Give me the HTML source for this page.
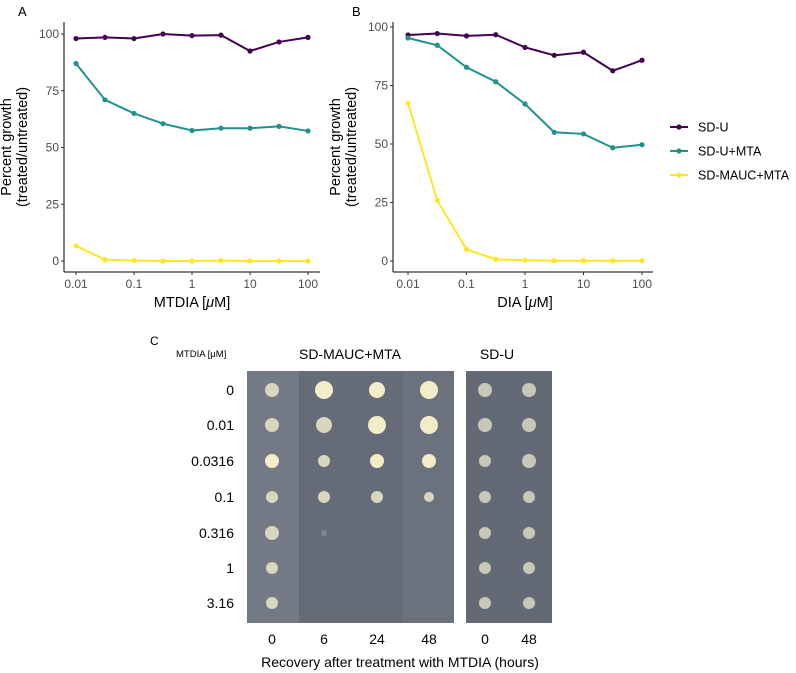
<!DOCTYPE html>
<html><head><meta charset="utf-8"><style>
body{margin:0;background:#fff;}
svg{display:block;font-family:"Liberation Sans",sans-serif;}
</style></head><body>
<svg id="fig" width="796" height="673" viewBox="0 0 796 673">
<g id="gA"></g>
<g id="gB"></g>
<g id="gL"></g>
<g id="gC"></g>
</svg>
<script>
const xCats = [0.01, 0.0316, 0.1, 0.316, 1, 3.16, 10, 31.6, 100];
const xTickVals = [0.01, 0.1, 1, 10, 100];
const xTickLabels = ["0.01", "0.1", "1", "10", "100"];
const yTickVals = [0, 25, 50, 75, 100];
const seriesNames = ["SD-U", "SD-U+MTA", "SD-MAUC+MTA"];
const seriesColors = ["#440154", "#21918c", "#fde725"];
const aSDU = [98, 98.5, 98, 100, 99.3, 99.5, 92.5, 96.5, 98.5];
const aSDUMTA = [87, 71, 65, 60.5, 57.5, 58.5, 58.5, 59.3, 57.3];
const aMAUC = [6.7, 0.6, 0.2, 0, 0, 0.2, 0, 0, 0];
const bSDU = [96.6, 97.2, 96.2, 96.7, 91.3, 87.9, 89.2, 81.3, 85.8];
const bSDUMTA = [95.3, 92.2, 82.8, 76.6, 67.1, 55, 54.3, 48.4, 49.7];
const bMAUC = [67.5, 25.9, 5, 0.7, 0.3, 0.1, 0.1, 0.1, 0.1];
const plateRows = ["0", "0.01", "0.0316", "0.1", "0.316", "1", "3.16"];
const plateCols = ["0", "6", "24", "48", "0", "48"];
const colonyR = [
 [7,9,8,9,7,7],[7,8,9,9,7,7],[7,6,7,7,6,7],[6,6,6,5,6,6],[7,3,0,0,6,6],[6,0,0,0,6,6],[6,0,0,0,6,6]];
const colonyType = [
 [1,0,0,0,3,3],[1,1,0,0,3,3],[0,1,0,0,3,3],[1,1,1,1,3,3],[1,2,0,0,3,3],[1,0,0,0,3,3],[1,0,0,0,3,3]];

const NS = "http://www.w3.org/2000/svg";
function mk(parent, tag, attrs, text){const e=document.createElementNS(NS,tag);for(const k in attrs)e.setAttribute(k,attrs[k]);if(text!==undefined)e.textContent=text;parent.appendChild(e);return e;}

function panel(g, o){
  const xs = v => o.x0 + (Math.log10(v)+2)/4*(o.x1-o.x0);
  const ys = v => o.y0 - v/100*(o.y0-o.y100);
  let t=mk(g,"text",{x:o.lx,y:16,"font-size":13,fill:"#000"},o.letter);
  
  
  let ax=mk(g,"line",{x1:o.ax,y1:o.top,x2:o.ax,y2:272,stroke:"#000","stroke-width":1});
  
  
  let bx=mk(g,"line",{x1:o.ax,y1:272,x2:o.right,y2:272,stroke:"#000","stroke-width":1});
  
  
  yTickVals.forEach(v=>{
    let l=mk(g,"line",{x1:o.ax-3,x2:o.ax,y1:ys(v),y2:ys(v),stroke:"#333"});
    
    
    let tt=mk(g,"text",{x:o.ax-5,y:ys(v)+4,"font-size":12,fill:"#4d4d4d","text-anchor":"end"},String(v));
    
    
  });
  xTickVals.forEach((v,i)=>{
    let l=mk(g,"line",{x1:xs(v),x2:xs(v),y1:272,y2:275,stroke:"#333"});
    
    
    let tt=mk(g,"text",{x:xs(v),y:288,"font-size":12,fill:"#4d4d4d","text-anchor":"middle"},xTickLabels[i]);
    
    
  });
  let xt=mk(g,"text",{x:(o.x0+o.x1)/2,y:307,"font-size":14.5,"text-anchor":"middle"});
  xt.innerHTML=o.xlab+' [<tspan font-style="italic">μ</tspan>M]';
  
  
  let yt=mk(g,"text",{transform:`translate(${o.ax-45},147) rotate(-90)`,"font-size":14.5,"text-anchor":"middle"});
  yt.innerHTML='<tspan x="0" dy="-8">Percent growth</tspan><tspan x="0" dy="16">(treated/untreated)</tspan>';
  
  
  o.series.forEach((s,si)=>{
    let p=mk(g,"polyline",{points:s.map((v,i)=>xs(xCats[i])+","+ys(v)).join(" "),fill:"none",stroke:seriesColors[si],"stroke-width":2});
    
    
    s.forEach((v,i)=>{
      let c=mk(g,"circle",{cx:xs(xCats[i]),cy:ys(v),r:2.6,fill:seriesColors[si]});
      
      
    });
  });
}
panel(document.getElementById("gA"),{letter:"A",lx:18,ax:64,right:320,top:22,x0:76,x1:308,y0:261,y100:34,xlab:"MTDIA",series:[aSDU,aSDUMTA,aMAUC]});
panel(document.getElementById("gB"),{letter:"B",lx:352,ax:393,right:653,top:22,x0:408,x1:642,y0:261,y100:27,xlab:"DIA",series:[bSDU,bSDUMTA,bMAUC]});

const gL=document.getElementById("gL");
seriesNames.forEach((n,i)=>{
  const y=127+i*24;
  let l=mk(gL,"line",{x1:670,x2:688,y1:y,y2:y,stroke:seriesColors[i],"stroke-width":2});
  
  
  let c=mk(gL,"circle",{cx:679,cy:y,r:2.6,fill:seriesColors[i]});
  
  
  let t=mk(gL,"text",{x:698,y:y+4.5,"font-size":12.5},n);
  
  
});

const gC=document.getElementById("gC");
let ct=mk(gC,"text",{x:150,y:345,"font-size":12},"C");


let mt=mk(gC,"text",{x:176,y:357,"font-size":9.5},"MTDIA [μM]");


let h1=mk(gC,"text",{x:350,y:359,"font-size":14,"text-anchor":"middle"},"SD-MAUC+MTA");


let h2=mk(gC,"text",{x:497,y:359,"font-size":14,"text-anchor":"middle"},"SD-U");


let p1=mk(gC,"rect",{x:247,y:371,width:207,height:252,fill:"#666c77"});


let p1a=mk(gC,"rect",{x:247,y:371,width:52,height:252,fill:"#737a86"});


let p1b=mk(gC,"rect",{x:403,y:371,width:51,height:252,fill:"#6c727d"});


let p2=mk(gC,"rect",{x:466,y:371,width:86,height:252,fill:"#636a75"});


const colX=[272,324,377,429,485,529];
const rowY=[390,425,461,497,533,568,603];
plateRows.forEach((r,ri)=>{
  let t=mk(gC,"text",{x:234,y:rowY[ri]+5,"font-size":14,"text-anchor":"end"},r);
  
  
  colX.forEach((x,ci)=>{
    const rad=colonyR[ri][ci]; if(!rad) return;
    const ty=colonyType[ri][ci];
    const fill=ty===0?"#f2ecc8":ty===1?"#d9d6bd":ty===2?"#80868e":"#c9c8b8";
    let c=mk(gC,"circle",{cx:x,cy:rowY[ri],r:rad,fill:fill});
    
    
  });
});
plateCols.forEach((c,i)=>{
  let t=mk(gC,"text",{x:colX[i],y:644,"font-size":14,"text-anchor":"middle"},c);
  
  
});
let xt=mk(gC,"text",{x:400,y:667,"font-size":14,"text-anchor":"middle"},"Recovery after treatment with MTDIA (hours)");


</script>
</body></html>
